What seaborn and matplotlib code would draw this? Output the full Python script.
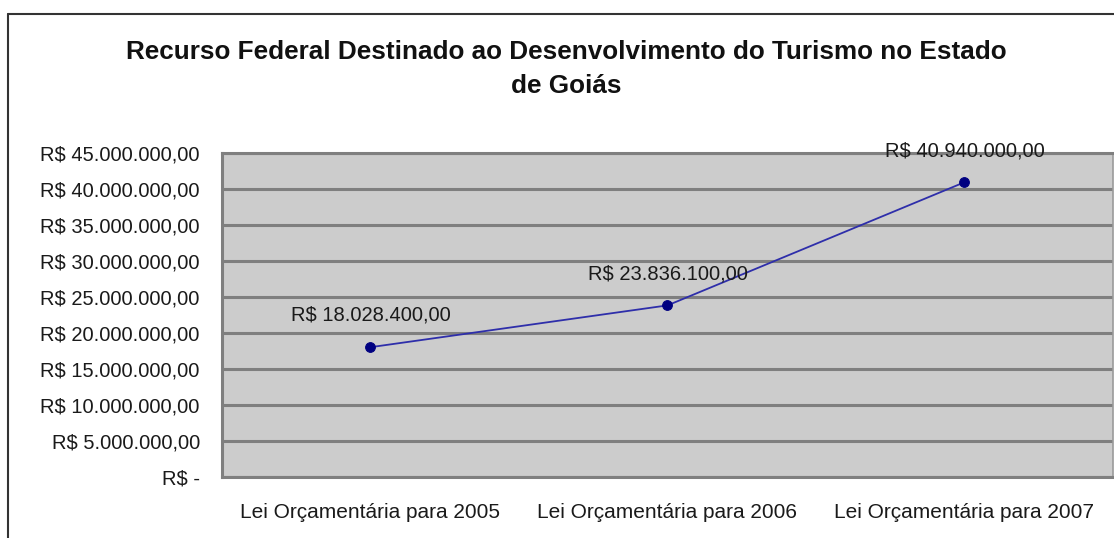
import matplotlib
matplotlib.use("Agg")
import matplotlib.pyplot as plt
import seaborn as sns
import pandas as pd
from matplotlib.lines import Line2D
from matplotlib.ticker import FuncFormatter, FixedLocator

# Data
categorias = [
    "Lei Orçamentária para 2005",
    "Lei Orçamentária para 2006",
    "Lei Orçamentária para 2007",
]
valores = [18028400.00, 23836100.00, 40940000.00]
rotulos = ["R$ 18.028.400,00", "R$ 23.836.100,00", "R$ 40.940.000,00"]

titulo = "Recurso Federal Destinado ao Desenvolvimento do Turismo no Estado\nde Goiás"

df = pd.DataFrame({"categoria": categorias, "valor": valores})

sns.set_style("white")
plt.rcParams["font.family"] = ["Liberation Sans", "DejaVu Sans"]


def moeda(v, pos=None):
    if v == 0:
        return "R$ -"
    s = f"{v:,.2f}"
    s = s.replace(",", "X").replace(".", ",").replace("X", ".")
    return "R$ " + s


fig = plt.figure(figsize=(11.14, 5.38), dpi=100)
ax = fig.add_axes([222 / 1114, 61 / 538, 891 / 1114, 324 / 538])
ax.set_facecolor("#cccccc")

sns.lineplot(
    data=df,
    x="categoria",
    y="valor",
    sort=False,
    color="#2e2eaa",
    linewidth=1.3,
    marker="o",
    markersize=7,
    markeredgecolor="#000080",
    markerfacecolor="#000080",
    ax=ax,
)

for i, (v, r) in enumerate(zip(valores, rotulos)):
    ax.annotate(
        r,
        (i, v),
        xytext=(0, 16),
        textcoords="offset points",
        ha="center",
        va="bottom",
        fontsize=14.5,
        color="#1a1a1a",
    )

ax.set_xlim(-0.5, 2.5)
ax.set_ylim(0, 45000000)
ax.set_yticks(range(0, 45000001, 5000000))
ax.yaxis.set_major_formatter(FuncFormatter(moeda))
ax.yaxis.grid(True, color="#7f7f7f", linewidth=2.2)
ax.set_axisbelow(True)

ax.xaxis.set_minor_locator(FixedLocator([-0.5, 0.5, 1.5, 2.5]))
ax.tick_params(axis="x", which="major", length=0, pad=19, labelsize=15, labelcolor="#1a1a1a")
ax.tick_params(axis="x", which="minor", length=5, width=1.5, color="#7f7f7f")
ax.tick_params(axis="y", length=5, width=1.5, color="#7f7f7f", pad=11, labelsize=14.5, labelcolor="#1a1a1a")

for side in ["left", "bottom", "top"]:
    ax.spines[side].set_color("#7f7f7f")
    ax.spines[side].set_linewidth(2.2)
ax.spines["right"].set_color("#9a9a9a")
ax.spines["right"].set_linewidth(1.2)

ax.set_xlabel("")
ax.set_ylabel("")

fig.text(0.508, 0.872, titulo, ha="center", va="center", fontsize=18.8,
         fontweight="bold", linespacing=1.5, color="#111111")

# chart area border (left and top)
fig.add_artist(Line2D([8 / 1114, 8 / 1114], [0, 1 - 14 / 538], transform=fig.transFigure,
                      color="#333333", linewidth=1.5))
fig.add_artist(Line2D([8 / 1114, 1], [1 - 14 / 538, 1 - 14 / 538], transform=fig.transFigure,
                      color="#333333", linewidth=1.5))

plt.savefig("out.png", dpi=100)
plt.close()
